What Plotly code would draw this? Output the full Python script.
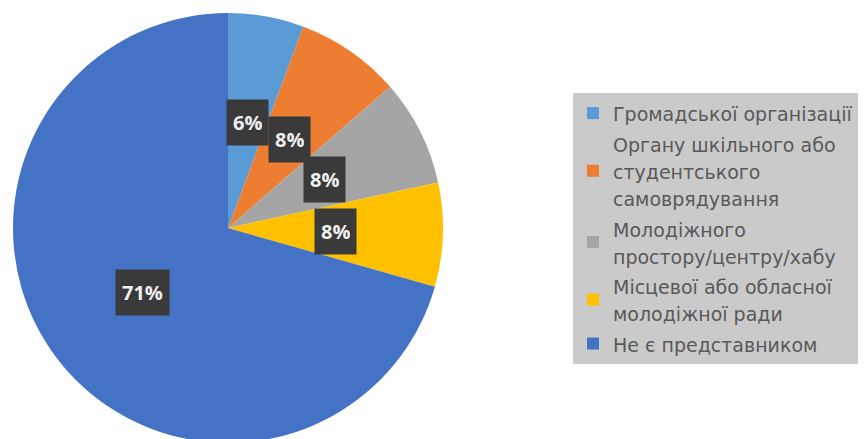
import math
import plotly.graph_objects as go

# data
categories = [
    "Громадської організації",
    "Органу шкільного або<br>студентського<br>самоврядування",
    "Молодіжного<br>простору/центру/хабу",
    "Місцевої або обласної<br>молодіжної ради",
    "Не є представником",
]
shares = [5.7, 7.9, 8.0, 7.8, 70.6]
share_labels = ["6%", "8%", "8%", "8%", "71%"]
colors = ["#5b9bd5", "#ed7d31", "#a5a5a5", "#ffc000", "#4472c4"]

W, H = 868, 439
BODY = 8  # default page margin around the plot div
# pie placement in window pixels
cx, cy, R = 228 - BODY, 228 - BODY, 215

fig = go.Figure(go.Pie(
    labels=[f"<span style='font-size:19px'>{c}</span>" for c in categories],
    values=shares,
    sort=False,
    direction="clockwise",
    rotation=0,
    marker=dict(colors=colors, line=dict(width=0)),
    textinfo="none",
    hoverinfo="skip",
    domain=dict(x=[(cx - R) / W, (cx + R) / W], y=[1 - (cy + R) / H, 1 - (cy - R) / H]),
))

# data labels in dark boxes, at half radius on the middle of each slice
total = sum(shares)
cum = 0
for v, lab in zip(shares, share_labels):
    mid = (cum + v / 2) / total * 2 * math.pi
    cum += v
    px = cx + 0.5 * R * math.sin(mid)
    py = cy - 0.5 * R * math.cos(mid)
    fig.add_annotation(
        x=px / W, y=1 - py / H, xref="paper", yref="paper",
        xanchor="center", yanchor="middle",
        text=f"<b>{lab}</b>", showarrow=False,
        font=dict(family="Open Sans", size=20, color="#f0f0f0"),
        bgcolor="#3a3a3a", borderpad=6, height=33,
    )

fig.update_layout(
    width=W, height=H,
    margin=dict(l=0, r=0, t=0, b=0),
    paper_bgcolor="white",
    showlegend=True,
    legend=dict(
        x=(573 - BODY) / W, y=1 - (93 - BODY) / H, xanchor="left", yanchor="top",
        bgcolor="#cacaca",
        font=dict(family="DejaVu Sans", size=21, color="#595959"),
        itemclick=False,
    ),
)

fig.write_html("out.html")
